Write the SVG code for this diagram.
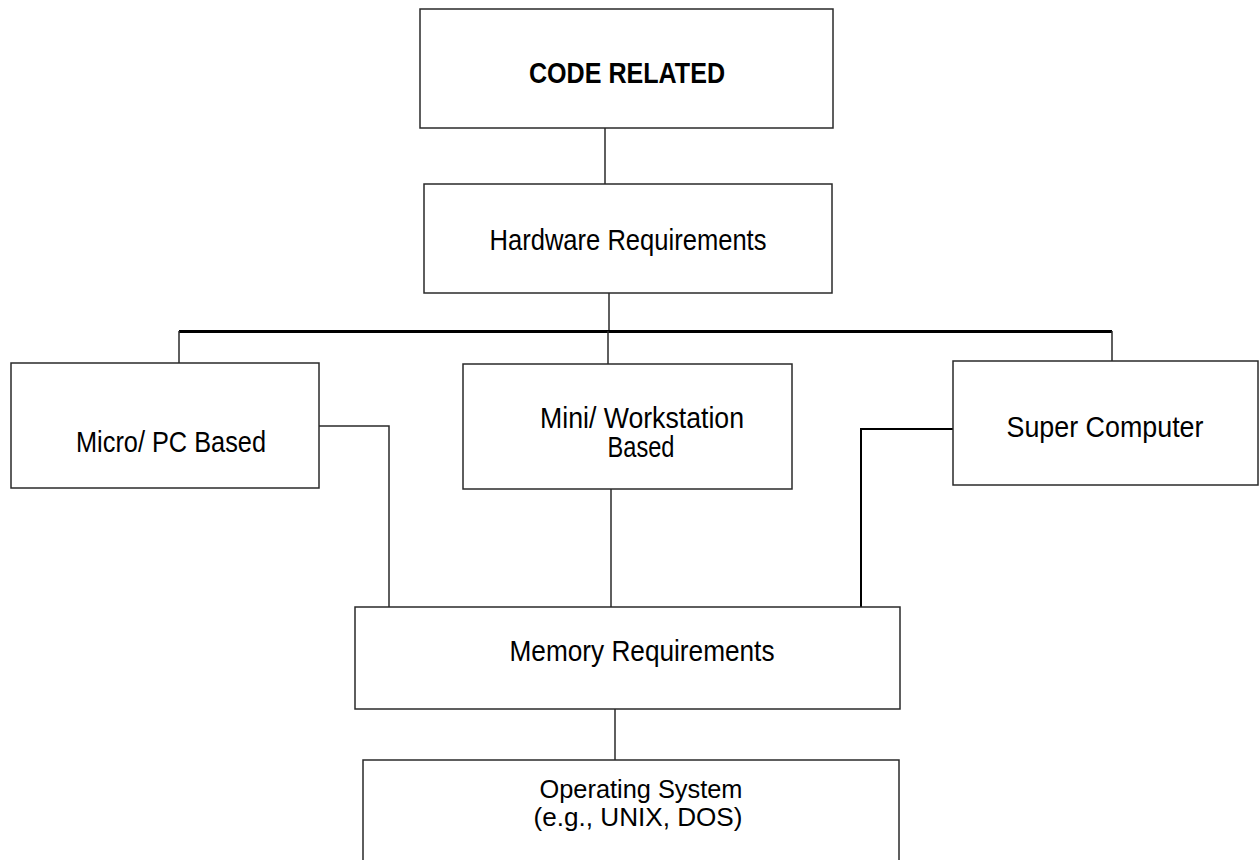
<svg xmlns="http://www.w3.org/2000/svg" width="1259" height="860" viewBox="0 0 1259 860">
<style>
.box{fill:#fff;stroke:#2a2a2a;stroke-width:1.5}
.t{font-family:"Liberation Sans Narrow","Liberation Sans",Arial,sans-serif;font-size:29px;fill:#000;text-anchor:middle}
.b{font-weight:bold}
.s{font-size:26px}
.c{fill:none;stroke:#2a2a2a;stroke-width:1.5}
</style>
<rect width="1259" height="860" fill="#fff"/>
<g id="connectors">
<line class="c" x1="605" y1="128" x2="605" y2="184"/>
<line class="c" x1="609" y1="293" x2="609" y2="331"/>
<line x1="179" y1="331.5" x2="1112" y2="331.5" stroke="#000" stroke-width="3"/>
<line class="c" x1="179" y1="331" x2="179" y2="363"/>
<line class="c" x1="608" y1="331" x2="608" y2="364"/>
<line class="c" x1="1112" y1="331" x2="1112" y2="361"/>
<polyline class="c" points="319,426 389,426 389,607"/>
<polyline fill="none" stroke="#000" stroke-width="2" points="953,429 861,429 861,607"/>
<line class="c" x1="611" y1="489" x2="611" y2="610"/>
<line class="c" x1="615" y1="709" x2="615" y2="760"/>
</g>
<g id="code-related">
<rect class="box" x="420" y="9" width="413" height="119"/>
<text class="t b" x="627" y="83" textLength="196" lengthAdjust="spacingAndGlyphs">CODE RELATED</text>
</g>
<g id="hardware">
<rect class="box" x="424" y="184" width="408" height="109"/>
<text class="t" x="628" y="250" textLength="277" lengthAdjust="spacingAndGlyphs">Hardware Requirements</text>
</g>
<g id="micro">
<rect class="box" x="11" y="363" width="308" height="125"/>
<text class="t" x="171" y="452" textLength="190" lengthAdjust="spacingAndGlyphs">Micro/ PC Based</text>
</g>
<g id="mini">
<rect class="box" x="463" y="364" width="329" height="125"/>
<text class="t" x="642" y="428" textLength="204" lengthAdjust="spacingAndGlyphs">Mini/ Workstation</text>
<text class="t" x="641" y="457" textLength="67" lengthAdjust="spacingAndGlyphs">Based</text>
</g>
<g id="super">
<rect class="box" x="953" y="361" width="305" height="124"/>
<text class="t" x="1105" y="437" textLength="197" lengthAdjust="spacingAndGlyphs">Super Computer</text>
</g>
<g id="memory">
<rect class="box" x="355" y="607" width="545" height="102"/>
<text class="t" x="642" y="661" textLength="265" lengthAdjust="spacingAndGlyphs">Memory Requirements</text>
</g>
<g id="os">
<rect class="box" x="363" y="760" width="536" height="120"/>
<text class="t s" x="641" y="798" textLength="203" lengthAdjust="spacingAndGlyphs">Operating System</text>
<text class="t s" x="638" y="826" textLength="209" lengthAdjust="spacingAndGlyphs">(e.g., UNIX, DOS)</text>
</g>
</svg>
